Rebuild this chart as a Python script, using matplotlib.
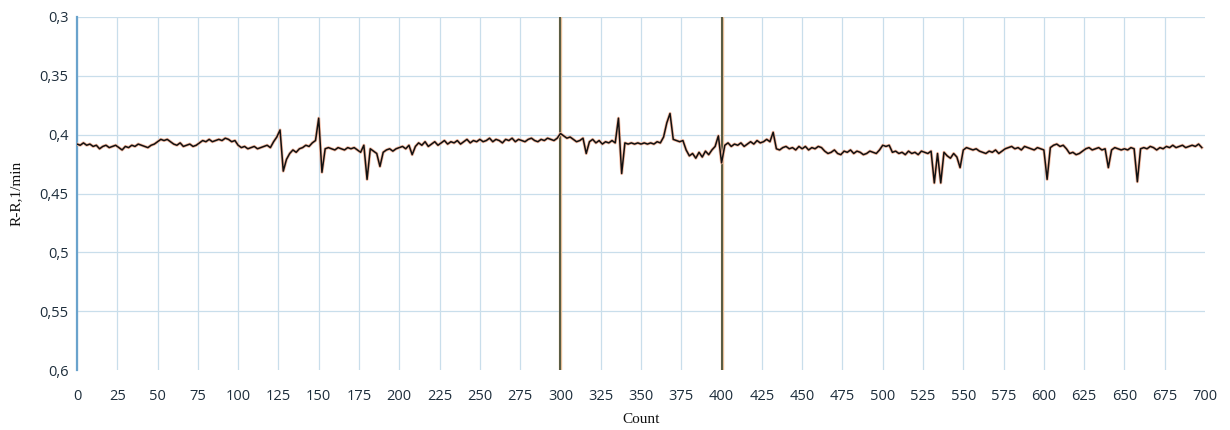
import numpy as np
import matplotlib
matplotlib.use("Agg")
import matplotlib.pyplot as plt
from matplotlib.ticker import FuncFormatter

# Sample positions (every 2 counts) and R-R values
counts = list(range(0, 700, 2))
rr_values = [
    0.408,0.409,0.407,0.409,0.408,0.410,0.409,0.412,0.410,0.409,0.411,0.410,0.409,0.411,0.413,0.410,0.411,0.409,0.410,0.408,0.409,0.410,0.411,0.409,0.408,
    0.406,0.404,0.405,0.404,0.406,0.408,0.409,0.407,0.410,0.409,0.408,0.410,0.409,0.407,0.405,0.406,0.404,0.406,0.405,0.404,0.405,0.403,0.404,0.406,0.405,
    0.409,0.411,0.410,0.412,0.411,0.410,0.412,0.411,0.410,0.409,0.411,0.406,0.402,0.396,0.431,0.421,0.416,0.413,0.415,0.412,0.411,0.409,0.410,0.407,0.405,
    0.386,0.432,0.412,0.411,0.412,0.413,0.411,0.412,0.413,0.411,0.412,0.411,0.413,0.415,0.409,0.438,0.412,0.414,0.416,0.427,0.415,0.413,0.412,0.414,0.412,
    0.411,0.410,0.412,0.409,0.417,0.410,0.407,0.409,0.406,0.410,0.408,0.406,0.409,0.407,0.405,0.408,0.406,0.407,0.405,0.408,0.406,0.404,0.407,0.405,0.406,
    0.404,0.406,0.405,0.403,0.406,0.404,0.405,0.407,0.404,0.405,0.403,0.406,0.404,0.405,0.406,0.404,0.403,0.405,0.406,0.404,0.405,0.403,0.404,0.405,0.403,
    0.399,0.401,0.403,0.402,0.404,0.406,0.405,0.403,0.416,0.406,0.404,0.407,0.405,0.408,0.406,0.407,0.405,0.407,0.386,0.433,0.407,0.408,0.407,0.408,0.407,
    0.408,0.407,0.408,0.407,0.408,0.406,0.407,0.402,0.390,0.382,0.404,0.405,0.406,0.405,0.413,0.418,0.416,0.420,0.415,0.419,0.414,0.417,0.413,0.410,0.401,
    0.424,0.409,0.407,0.410,0.408,0.409,0.407,0.410,0.408,0.406,0.408,0.405,0.407,0.406,0.404,0.406,0.398,0.412,0.413,0.411,0.410,0.412,0.411,0.413,0.410,
    0.412,0.410,0.413,0.411,0.412,0.410,0.411,0.414,0.416,0.415,0.413,0.416,0.417,0.414,0.415,0.413,0.416,0.414,0.415,0.417,0.416,0.414,0.415,0.416,0.413,
    0.409,0.410,0.409,0.415,0.414,0.416,0.415,0.417,0.414,0.416,0.415,0.417,0.414,0.415,0.416,0.414,0.441,0.416,0.441,0.415,0.418,0.420,0.416,0.419,0.428,
    0.413,0.411,0.412,0.413,0.412,0.414,0.415,0.416,0.414,0.415,0.413,0.416,0.414,0.412,0.411,0.410,0.412,0.411,0.413,0.410,0.411,0.412,0.413,0.411,0.412,
    0.413,0.438,0.411,0.409,0.408,0.410,0.409,0.412,0.416,0.415,0.417,0.416,0.414,0.412,0.411,0.413,0.412,0.411,0.413,0.412,0.428,0.413,0.411,0.412,0.413,
    0.412,0.413,0.411,0.412,0.440,0.412,0.411,0.412,0.410,0.411,0.413,0.411,0.412,0.410,0.411,0.409,0.411,0.410,0.409,0.411,0.410,0.409,0.410,0.408,0.411,
]
markers_x = [300, 400]
x_ticks = list(range(0, 701, 25))
y_ticks = [0.3, 0.35, 0.4, 0.45, 0.5, 0.55, 0.6]

fig = plt.figure(figsize=(12.3, 4.3), dpi=100)
ax = fig.add_axes([0.0626, 0.1395, 0.9171, 0.821])

ax.set_xlim(0, 700)
ax.set_ylim(0.6, 0.3)
ax.set_xticks(x_ticks)
ax.set_yticks(y_ticks)
ax.yaxis.set_major_formatter(FuncFormatter(lambda v, p: ('%g' % v).replace('.', ',')))

grid_col = '#c9deeb'
ax.grid(True, color=grid_col, linewidth=0.9)
ax.set_axisbelow(True)
for gl, t in zip(ax.get_xgridlines(), x_ticks):
    if t == 700:
        gl.set_visible(False)
for gl, t in zip(ax.get_ygridlines(), y_ticks):
    if abs(t - 0.6) < 1e-9:
        gl.set_visible(False)

for s in ['right', 'bottom', 'top']:
    ax.spines[s].set_visible(False)
ax.spines['left'].set_color('#6aa3cc')
ax.spines['left'].set_linewidth(1.6)

ax.tick_params(axis='x', length=0, labelsize=10.5, labelcolor='#1e2e3c', pad=14)
ax.tick_params(axis='y', length=0, labelsize=10.5, labelcolor='#1e2e3c', pad=6)
for lab in ax.get_xticklabels() + ax.get_yticklabels():
    lab.set_fontfamily('Open Sans')

for mx in markers_x:
    ax.axvline(mx, color='#e9c09a', linewidth=2.4, zorder=2)
    ax.axvline(mx, color='#2f3f2a', linewidth=1.1, zorder=3)

ax.plot(counts, rr_values, color='#f3b9a0', linewidth=2.2, zorder=4)
ax.plot(counts, rr_values, color='#111111', linewidth=1.1, zorder=5)

ax.set_xlabel('Count', fontfamily='Liberation Serif', fontsize=11, labelpad=6, color='#111111')
ax.set_ylabel('R-R,1/min', fontfamily='Liberation Serif', fontsize=11, labelpad=12, color='#111111')

fig.savefig('out.png', dpi=100, facecolor='white')
